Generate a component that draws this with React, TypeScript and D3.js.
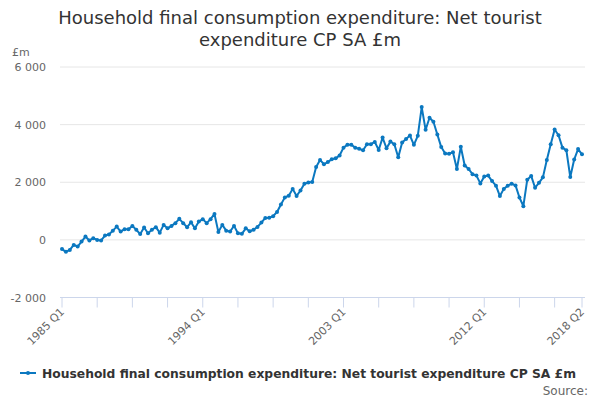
import React from "react";
import * as d3 from "d3";

const startYear = 1985;
const values: number[] = [
  -320, -415, -350, -175, -230, -60, 115, -20, 60, 0,
  -20, 150, 185, 320, 460, 290, 370, 370, 485, 350,
  200, 430, 230, 350, 440, 250, 520, 400, 485, 580,
  730, 580, 440, 610, 400, 635, 720, 580, 720, 900,
  270, 520, 320, 290, 485, 230, 210, 400, 300, 350,
  450, 600, 760, 770, 820, 970, 1230, 1475, 1530, 1770,
  1525, 1715, 1945, 1990, 2010, 2530, 2775, 2625, 2700, 2800,
  2830, 2930, 3200, 3300, 3300, 3200, 3160, 3110, 3320, 3320,
  3400, 3120, 3550, 3180, 3410, 3320, 2870, 3380, 3500, 3620,
  3300, 3610, 4610, 3820, 4240, 4100, 3660, 3220, 3000, 2990,
  3040, 2460, 3230, 2580, 2460, 2280, 2230, 1960, 2200, 2230,
  2040, 1880, 1520, 1770, 1880, 1950, 1890, 1470, 1170, 2090,
  2220, 1810, 1980, 2170, 2770, 3320, 3830, 3630, 3200, 3110,
  2180, 2790, 3150, 2970,
];
const categories: string[] = values.map((_, i) => `${startYear + Math.floor(i / 4)} Q${(i % 4) + 1}`);
const yTicks: number[] = [-2000, 0, 2000, 4000, 6000];
const labelledCategories: string[] = ["1985 Q1", "1994 Q1", "2003 Q1", "2012 Q1", "2018 Q2"];
const tickCategories: string[] = categories.filter((_, i) => i % 9 === 0 || i === categories.length - 1);

const titleLines = ["Household final consumption expenditure: Net tourist", "expenditure CP SA £m"];
const seriesName = "Household final consumption expenditure: Net tourist expenditure CP SA £m";

const W = 600, H = 400;
const left = 62, right = 582;
const top = 67, bottom = 297.5;
const color = "#0b78c0";
const font = "'DejaVu Sans', sans-serif";

export default function App() {
  const x = d3.scalePoint<string>().domain(categories).range([left, right]);
  const y = d3.scaleLinear().domain([-2000, 6000]).range([bottom, top]);
  const line = d3.line<number>().x((_, i) => x(categories[i]) as number).y((d) => y(d));
  const fmt = (v: number) => d3.format(",")(v).replace(/,/g, " ").replace("\u2212", "-");

  return (
    <svg width={W} height={H} style={{ position: "absolute", left: 0, top: 0, background: "#fff" }} fontFamily={font}>
      <rect width={W} height={H} fill="#fff" />
      {titleLines.map((t, i) => (
        <text key={i} x={300} y={24 + i * 22} textAnchor="middle" fontSize={18} fill="#333">{t}</text>
      ))}
      <text x={12} y={56} fontSize={11} fill="#666">£m</text>
      {yTicks.map((t) => (
        <g key={t}>
          {t !== -2000 && <line x1={left - 2} x2={right + 3} y1={y(t)} y2={y(t)} stroke="#e6e6e6" />}
          <text x={46} y={y(t) + 4} textAnchor="end" fontSize={11} fill="#666">{fmt(t)}</text>
        </g>
      ))}
      <line x1={left - 2} x2={right + 3} y1={bottom} y2={bottom} stroke="#ccd6eb" />
      {tickCategories.map((c) => (
        <line key={c} x1={x(c)} x2={x(c)} y1={bottom} y2={bottom + 10} stroke="#ccd6eb" />
      ))}
      {labelledCategories.map((c) => (
        <text key={c} transform={`translate(${(x(c) as number) + 3},${bottom + 15}) rotate(-45)`} textAnchor="end" fontSize={11} fill="#666">{c}</text>
      ))}
      <path d={line(values) || ""} fill="none" stroke={color} strokeWidth={2} strokeLinejoin="round" />
      {values.map((v, i) => (
        <circle key={i} cx={x(categories[i])} cy={y(v)} r={2} fill={color} />
      ))}
      <line x1={20} x2={36} y1={373} y2={373} stroke={color} strokeWidth={2} />
      <circle cx={28} cy={373} r={2} fill={color} />
      <text x={42} y={378} fontSize={12.3} fontWeight="bold" fill="#333">{seriesName}</text>
      <text x={588} y={395} textAnchor="end" fontSize={12} fill="#666">Source:</text>
    </svg>
  );
}
